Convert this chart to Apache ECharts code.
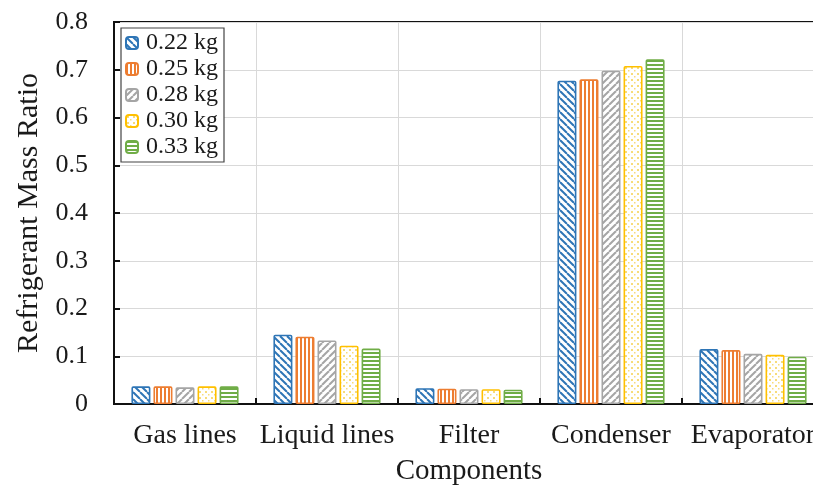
<!DOCTYPE html>
<html>
<head>
<meta charset="utf-8">
<script src="https://cdn.jsdelivr.net/npm/echarts@6/dist/echarts.min.js"></script>
<style>
  html, body { margin: 0; padding: 0; background: #fff; }
  #chart { width: 813px; height: 487px; }
</style>
</head>
<body>
<div id="chart"></div>
<script>
// Refrigerant mass distribution by component for five charge amounts
const categories = ['Gas lines', 'Liquid lines', 'Filter', 'Condenser', 'Evaporator'];
const seriesNames = ['0.22 kg', '0.25 kg', '0.28 kg', '0.30 kg', '0.33 kg'];
const charge022 = [0.037, 0.145, 0.033, 0.677, 0.115];
const charge025 = [0.037, 0.141, 0.032, 0.680, 0.113];
const charge028 = [0.035, 0.133, 0.031, 0.698, 0.105];
const charge030 = [0.037, 0.122, 0.031, 0.708, 0.103];
const charge033 = [0.037, 0.116, 0.030, 0.722, 0.099];
const yTicks = [0, 0.1, 0.2, 0.3, 0.4, 0.5, 0.6, 0.7, 0.8];

const values = [charge022, charge025, charge028, charge030, charge033];
const colors = ['#2E75B6', '#ED7D31', '#A5A5A5', '#FFC000', '#70AD47'];
const serif = '"Liberation Serif", "Times New Roman", serif';

// Hatch fills drawn on small tiles
function tile(w, h, draw) {
  const c = document.createElement('canvas');
  c.width = w; c.height = h;
  const ctx = c.getContext('2d');
  ctx.fillStyle = '#ffffff';
  ctx.fillRect(0, 0, w, h);
  draw(ctx, w, h);
  return { image: c, repeat: 'repeat' };
}
const patterns = [
  // back-diagonal stripes
  tile(7, 7, (ctx, w, h) => {
    ctx.strokeStyle = colors[0]; ctx.lineWidth = 2;
    for (let k = -1; k <= 1; k++) {
      ctx.beginPath(); ctx.moveTo(k * w, 0); ctx.lineTo(k * w + w, h); ctx.stroke();
    }
  }),
  // vertical stripes
  tile(4, 4, (ctx, w, h) => {
    ctx.fillStyle = colors[1]; ctx.fillRect(0, 0, 2, h);
  }),
  // forward-diagonal stripes
  tile(7, 7, (ctx, w, h) => {
    ctx.strokeStyle = colors[2]; ctx.lineWidth = 2;
    for (let k = -1; k <= 1; k++) {
      ctx.beginPath(); ctx.moveTo(k * w, h); ctx.lineTo(k * w + w, 0); ctx.stroke();
    }
  }),
  // sparse dots
  tile(6, 6, (ctx, w, h) => {
    ctx.fillStyle = '#F7DC7A';
    ctx.fillRect(1, 1, 2, 2);
    ctx.fillRect(4, 4, 1.5, 1.5);
  }),
  // horizontal stripes
  tile(4, 4, (ctx, w, h) => {
    ctx.fillStyle = colors[4]; ctx.fillRect(0, 0, w, 2);
  })
];

const chart = echarts.init(document.getElementById('chart'), null, { renderer: 'canvas' });

chart.setOption({
  animation: false,
  backgroundColor: '#ffffff',
  grid: {
    left: 114, top: 22, width: 710, height: 382,
    outerBoundsMode: 'none',
    containLabel: false,
    show: true, borderColor: '#111', borderWidth: 2, backgroundColor: 'transparent'
  },
  legend: {
    orient: 'vertical',
    left: 121, top: 28,
    itemWidth: 12, itemHeight: 12, itemGap: 2,
    padding: [3, 6, 3, 4],
    borderColor: '#444', borderWidth: 1.2,
    backgroundColor: '#fff',
    textStyle: { fontFamily: serif, fontSize: 24, color: '#1a1a1a', padding: [0, 0, 0, 3] },
    data: seriesNames
  },
  xAxis: {
    type: 'category',
    data: categories,
    name: 'Components',
    nameLocation: 'middle',
    nameGap: 53,
    nameTextStyle: { fontFamily: serif, fontSize: 29, color: '#1a1a1a' },
    axisLine: { lineStyle: { color: '#111', width: 2 } },
    axisTick: { show: true, inside: true, length: 6, lineStyle: { color: '#111', width: 2 } },
    axisLabel: { interval: 0, fontFamily: serif, fontSize: 28, color: '#1a1a1a', margin: 18 },
    splitLine: { show: true, lineStyle: { color: '#d9d9d9', width: 1 } }
  },
  yAxis: {
    type: 'value',
    min: yTicks[0], max: yTicks[yTicks.length - 1], interval: 0.1,
    name: 'Refrigerant Mass Ratio',
    nameLocation: 'middle',
    nameGap: 70,
    nameTextStyle: { fontFamily: serif, fontSize: 30, color: '#1a1a1a' },
    axisLine: { show: true, lineStyle: { color: '#111', width: 2 } },
    axisTick: { show: true, inside: true, length: 6, lineStyle: { color: '#111', width: 2 } },
    axisLabel: {
      fontFamily: serif, fontSize: 26, color: '#1a1a1a', margin: 26,
      formatter: v => (Math.round(v * 10) / 10).toString()
    },
    splitLine: { show: true, lineStyle: { color: '#d9d9d9', width: 1 } }
  },
  series: seriesNames.map((name, i) => ({
    name,
    type: 'bar',
    data: values[i],
    barWidth: 19,
    barGap: '16%',
    itemStyle: {
      color: patterns[i],
      borderColor: colors[i],
      borderWidth: 1.6,
      borderRadius: 1
    }
  }))
});
</script>
</body>
</html>
